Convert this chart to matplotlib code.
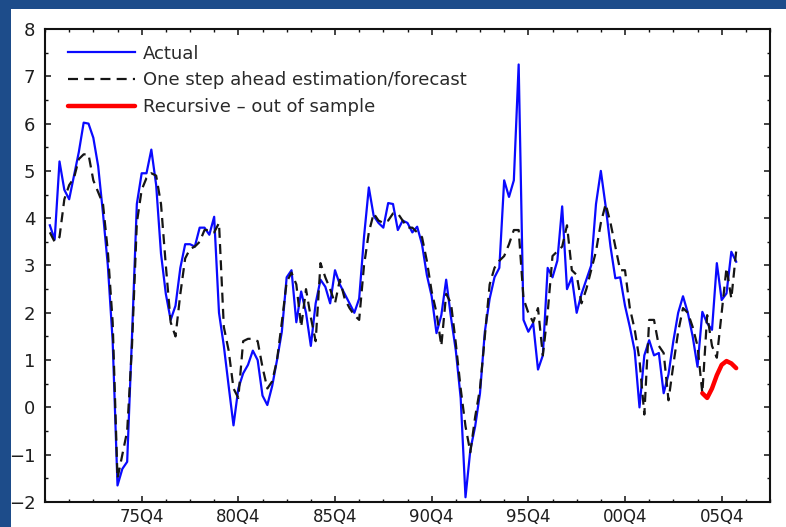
import matplotlib
matplotlib.use("Agg")
import matplotlib.pyplot as plt
import numpy as np
from matplotlib.patches import Rectangle
from matplotlib.ticker import FixedLocator, MultipleLocator

# the source picture is stretched sideways, DejaVu's wide glyphs get close to that
plt.rcParams["font.family"] = ["DejaVu Sans"]

# quarterly series, first observation is 71Q1
FIRST_QUARTER = 1971.0

actual = [
    3.85, 3.55, 5.2, 4.6, 4.4, 4.9, 5.4, 6.02, 6.0, 5.7,
    5.1, 4.1, 3.0, 1.4, -1.65, -1.3, -1.15, 1.5, 4.3, 4.95,
    4.95, 5.45, 4.7, 3.25, 2.4, 1.85, 2.15, 2.95, 3.45, 3.45,
    3.4, 3.8, 3.8, 3.65, 4.03, 2.0, 1.3, 0.45, -0.38, 0.4,
    0.72, 0.9, 1.2, 1.0, 0.25, 0.05, 0.45, 1.0, 1.6, 2.75,
    2.9, 1.8, 2.45, 2.0, 1.3, 2.2, 2.7, 2.55, 2.2, 2.9,
    2.6, 2.4, 2.2, 2.0, 2.3, 3.6, 4.65, 4.05, 3.9, 3.8,
    4.32, 4.3, 3.75, 3.95, 3.9, 3.7, 3.82, 3.45, 2.8, 2.35,
    1.57, 1.95, 2.7, 1.9, 1.2, 0.2, -1.9, -0.9, -0.4, 0.3,
    1.6, 2.3, 2.75, 2.95, 4.8, 4.45, 4.8, 7.25, 1.85, 1.6,
    1.78, 0.8, 1.1, 2.95, 2.75, 3.1, 4.25, 2.5, 2.75, 2.0,
    2.4, 2.7, 3.0, 4.3, 5.0, 4.25, 3.4, 2.73, 2.75, 2.15,
    1.7, 1.2, 0.0, 1.1, 1.42, 1.1, 1.15, 0.3, 0.7, 1.4,
    2.0, 2.35, 2.0, 1.5, 0.86, 2.02, 1.78, 1.64, 3.05, 2.27,
    2.41, 3.29, 3.08,
]

one_step = [
    3.7, 3.5, 3.6, 4.4, 4.7, 4.85, 5.25, 5.35, 5.35, 4.8,
    4.55, 4.3, 3.3, 1.8, -1.5, -1.0, -0.5, 1.3, 3.9, 4.6,
    4.85, 4.95, 4.9, 4.3, 3.0, 1.8, 1.5, 2.4, 3.15, 3.35,
    3.4, 3.5, 3.75, 3.75, 3.7, 3.9, 1.7, 1.2, 0.4, 0.2,
    1.4, 1.45, 1.45, 1.4, 0.85, 0.4, 0.55, 1.0, 1.8, 2.65,
    2.85, 2.6, 1.7, 2.5, 1.9, 1.4, 3.05, 2.75, 2.5, 2.2,
    2.7, 2.3, 2.1, 1.95, 1.85, 3.0, 3.7, 4.1, 3.95, 3.9,
    3.95, 4.1, 4.1, 3.95, 3.8, 3.8, 3.7, 3.6, 3.1, 2.45,
    2.0, 1.3, 2.4, 2.2, 1.35, 0.4, -0.4, -0.95, -0.2, 0.4,
    1.5, 2.6, 2.95, 3.1, 3.2, 3.45, 3.75, 3.75, 2.3, 2.0,
    1.8, 2.1, 1.1, 2.0, 3.2, 3.3, 3.4, 3.85, 2.9, 2.8,
    2.2, 2.5, 2.9, 3.3, 3.9, 4.3, 3.9, 3.4, 2.9, 2.9,
    2.1, 1.65, 1.0, -0.15, 1.85, 1.85, 1.3, 1.15, 0.15, 0.9,
    1.6, 2.1, 2.0, 1.7, 1.3, 0.3, 1.95, 1.3, 1.05, 2.0,
    2.95, 2.3, 3.3,
]

# out-of-sample recursive forecast, starts 04Q4
RECURSIVE_START = 2004.75
recursive = [0.3, 0.2, 0.4, 0.68, 0.9, 0.98, 0.93, 0.83]

tick_positions = [1975.75, 1980.75, 1985.75, 1990.75, 1995.75, 2000.75, 2005.75]
tick_labels = ["75Q4", "80Q4", "85Q4", "90Q4", "95Q4", "00Q4", "05Q4"]
y_ticks = [-2, -1, 0, 1, 2, 3, 4, 5, 6, 7, 8]

BLUE_BG = "#1d4c8a"
TEXT = "#1e1e1e"

t_actual = FIRST_QUARTER + 0.25 * np.arange(len(actual))
t_step = FIRST_QUARTER + 0.25 * np.arange(len(one_step))
t_rec = RECURSIVE_START + 0.25 * np.arange(len(recursive))

W, H = 786, 527
fig = plt.figure(figsize=(W / 100, H / 100), dpi=100, facecolor=BLUE_BG)
fig.add_artist(Rectangle((11 / W, 0), 1.0, (H - 9) / H, transform=fig.transFigure,
                         facecolor="white", edgecolor="none", zorder=0))

ax = fig.add_axes([45 / W, 25 / H, 725 / W, 473 / H])
ax.set_facecolor("white")

ax.plot(t_actual, actual, color="#0a0aff", linewidth=1.6, label="Actual", zorder=2)
ax.plot(t_step, one_step, color="#151515", linewidth=1.6, dashes=(4.5, 2.8),
        label="One step ahead estimation/forecast", zorder=3)
ax.plot(t_rec, recursive, color="#ff0000", linewidth=3.2, solid_capstyle="round",
        label="Recursive \u2013 out of sample", zorder=4)

ax.set_xlim(1970.75, 2008.25)
ax.set_ylim(-2, 8)
ax.set_xticks(tick_positions, tick_labels)
ax.xaxis.set_minor_locator(FixedLocator(np.arange(1970.75, 2008.3, 1.25)))
ax.set_yticks(y_ticks)
ax.yaxis.set_minor_locator(MultipleLocator(0.5))

for spine in ax.spines.values():
    spine.set_linewidth(1.5)
    spine.set_color("#111111")

ax.tick_params(which="both", direction="in", top=True, right=True, color="#111111")
ax.tick_params(which="major", length=4.5, width=1.1, labelcolor=TEXT)
ax.tick_params(which="minor", length=2.3, width=1.0)
ax.tick_params(axis="x", which="major", pad=4, labelsize=12)
ax.tick_params(axis="y", which="major", pad=7, labelsize=13)

leg = ax.legend(loc="upper left", bbox_to_anchor=(0.032, 0.967), frameon=False,
                fontsize=13, handlelength=3.7, handletextpad=0.45, labelspacing=0.49,
                borderpad=0, borderaxespad=0)
for txt in leg.get_texts():
    txt.set_color("#2a2a2a")

fig.savefig("out.png", dpi=100, facecolor=fig.get_facecolor())
